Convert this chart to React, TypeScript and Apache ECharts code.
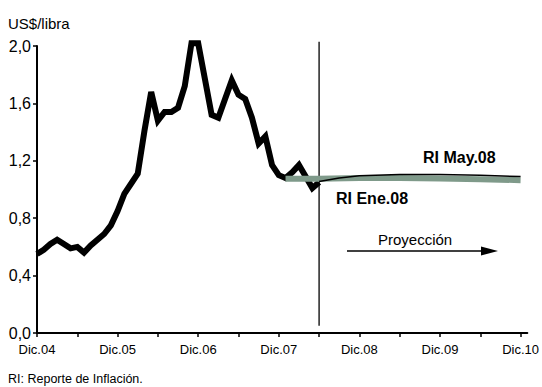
import React, { useEffect, useRef } from "react";
import * as echarts from "echarts";

const xTickLabels = ["Dic.04", "Dic.05", "Dic.06", "Dic.07", "Dic.08", "Dic.09", "Dic.10"];
const yTicks = [0, 0.4, 0.8, 1.2, 1.6, 2.0];

// months since Dic.04
const actualMonths = [
  0, 1, 2, 3, 4, 5, 6, 7, 8, 9, 10, 11, 12, 13, 14, 15, 16, 17, 18, 19, 20, 21,
  22, 23, 24, 25, 26, 27, 28, 29, 30, 31, 32, 33, 34, 35, 36, 37, 38, 39, 40, 41, 42,
];
const actualValues = [
  0.55, 0.58, 0.62, 0.65, 0.62, 0.59, 0.6, 0.56, 0.61, 0.65, 0.69, 0.75, 0.85, 0.97,
  1.04, 1.11, 1.41, 1.68, 1.48, 1.54, 1.54, 1.57, 1.72, 2.02, 2.02, 1.77, 1.52, 1.5,
  1.63, 1.76, 1.66, 1.63, 1.5, 1.32, 1.37, 1.17, 1.1, 1.08, 1.12, 1.17, 1.09, 1.01, 1.05,
];

const mayMonths = [37, 42, 48, 54, 60, 66, 72];
const mayValues = [1.075, 1.075, 1.08, 1.08, 1.077, 1.072, 1.065];

const eneMonths = [42, 45, 48, 54, 60, 66, 72];
const eneValues = [1.055, 1.08, 1.096, 1.105, 1.105, 1.1, 1.09];

// vertical separator at the start of the projection
const projectionStart = 42;
const separatorRange = [2.03, 0.05];

const pairs = (xs: number[], ys: number[]) => xs.map((x, i) => [x, ys[i]]);

const SANS = "'Liberation Sans', Arial, sans-serif";

export default function App() {
  const ref = useRef<HTMLDivElement>(null);
  useEffect(() => {
    if (!ref.current) return;
    const chart = echarts.init(ref.current, null, { renderer: "svg" });
    chart.setOption({
      animation: false,
      backgroundColor: "#ffffff",
      grid: { left: 37, right: 13, top: 46, bottom: 54, containLabel: false },
      xAxis: {
        type: "value",
        min: 0,
        max: 73,
        interval: 6,
        axisLine: { show: true, lineStyle: { color: "#000", width: 2 } },
        axisTick: { show: true, length: 4, lineStyle: { color: "#000", width: 1.5 } },
        splitLine: { show: false },
        axisLabel: {
          showMaxLabel: false,
          margin: 10,
          color: "#000",
          fontFamily: SANS,
          fontSize: 13,
          formatter: (v: number) => (v % 12 === 0 ? xTickLabels[v / 12] ?? "" : ""),
        },
      },
      yAxis: {
        type: "value",
        min: 0,
        max: 2,
        interval: 0.4,
        axisLine: { show: true, lineStyle: { color: "#000", width: 2 } },
        axisTick: { show: true, length: 4, lineStyle: { color: "#000", width: 1.5 } },
        splitLine: { show: false },
        axisLabel: {
          margin: 6,
          color: "#000",
          fontFamily: SANS,
          fontSize: 16,
          formatter: (v: number) =>
            yTicks.some((t) => Math.abs(t - v) < 1e-6) ? v.toFixed(1).replace(".", ",") : "",
        },
      },
      series: [
        {
          name: "Separador",
          type: "line",
          data: separatorRange.map((v) => [projectionStart, v]),
          showSymbol: false,
          clip: false,
          silent: true,
          lineStyle: { color: "#000", width: 1.3 },
          z: 1,
        },
        {
          name: "Efectivo",
          type: "line",
          data: pairs(actualMonths, actualValues),
          showSymbol: false,
          clip: false,
          lineStyle: { color: "#000", width: 6, join: "miter" },
          z: 2,
        },
        {
          name: "RI May.08",
          type: "line",
          data: pairs(mayMonths, mayValues),
          showSymbol: false,
          clip: false,
          lineStyle: { color: "#7f9a8a", width: 6 },
          z: 3,
        },
        {
          name: "RI Ene.08",
          type: "line",
          data: pairs(eneMonths, eneValues),
          showSymbol: false,
          clip: false,
          lineStyle: { color: "#000", width: 1.5 },
          z: 4,
        },
      ],
      graphic: [
        {
          type: "text",
          left: 8,
          top: 16,
          style: { text: "US$/libra", fill: "#000", font: `15px ${SANS}` },
        },
        {
          type: "text",
          x: 423,
          y: 157,
          style: {
            text: "RI May.08",
            fill: "#000",
            font: `bold 16px ${SANS}`,
            verticalAlign: "middle",
          },
        },
        {
          type: "text",
          x: 336,
          y: 198,
          style: {
            text: "RI Ene.08",
            fill: "#000",
            font: `bold 16px ${SANS}`,
            verticalAlign: "middle",
          },
        },
        {
          type: "text",
          x: 378,
          y: 239,
          style: {
            text: "Proyección",
            fill: "#000",
            font: `15px ${SANS}`,
            verticalAlign: "middle",
          },
        },
        {
          type: "line",
          shape: { x1: 347, y1: 251, x2: 484, y2: 251 },
          style: { stroke: "#000", lineWidth: 1.3 },
        },
        {
          type: "polygon",
          shape: { points: [[481, 246.5], [498, 251], [481, 255.5]] },
          style: { fill: "#000" },
        },
        {
          type: "text",
          x: 8,
          y: 378.5,
          style: {
            text: "RI: Reporte de Inflación.",
            fill: "#000",
            font: `12.5px ${SANS}`,
            verticalAlign: "middle",
          },
        },
      ],
    });
    return () => chart.dispose();
  }, []);
  return (
    <div
      ref={ref}
      style={{ position: "fixed", left: 0, top: 0, width: 542, height: 387, background: "#fff" }}
    />
  );
}
